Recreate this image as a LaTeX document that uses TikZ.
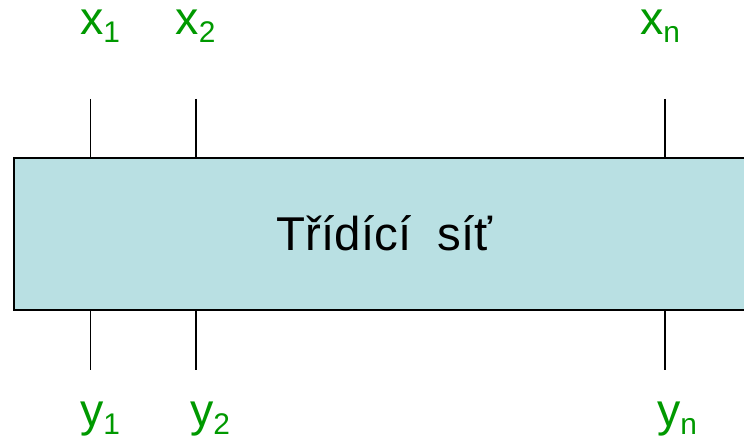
\documentclass[tikz,border=0pt]{standalone}
\usepackage{fontspec}
\setmainfont{Liberation Sans}
\usetikzlibrary{positioning}
\definecolor{netfill}{RGB}{185,224,227}
\definecolor{wiregreen}{RGB}{0,153,0}
\newcommand{\sublab}[2]{#1\raisebox{-4.5pt}{\fontsize{17}{17}\selectfont #2}}

\begin{document}
\begin{tikzpicture}[line width=1pt,
  varlab/.style={text=wiregreen,font=\fontsize{26.5}{26.5}\selectfont,anchor=base,inner sep=0pt}]
\useasboundingbox (0,0) rectangle (14.88,8.8);
\clip (0,0) rectangle (14.88,8.8);
% ---------- sit ----------
\node[draw,line width=1.2pt,fill=netfill,minimum width=15.22cm,minimum height=3.04cm,
  text height=0.68cm,text depth=0pt,font=\fontsize{27}{27}\selectfont]
  (net) at (7.89,4.12) {Třídící\ \ síť\hspace*{0.4cm}};
% ---------- vstupy a vystupy ----------
\foreach \n/\xx/\xl/\yl in {1/1.81/2.0/2.0, 2/3.92/3.91/4.2, n/13.3/13.2/13.54}{
  \coordinate (in\n) at (\xx,6.82);
  \coordinate (out\n) at (\xx,1.4);
  \draw (in\n) -- (in\n |- net.north);
  \draw (out\n) -- (out\n |- net.south);
  \node[varlab] (x\n) at (\xl,8.1) {\sublab{x}{\n}};
  \node[varlab] (y\n) at (\yl,0.26) {\sublab{y}{\n}};
}
\end{tikzpicture}
\end{document}
